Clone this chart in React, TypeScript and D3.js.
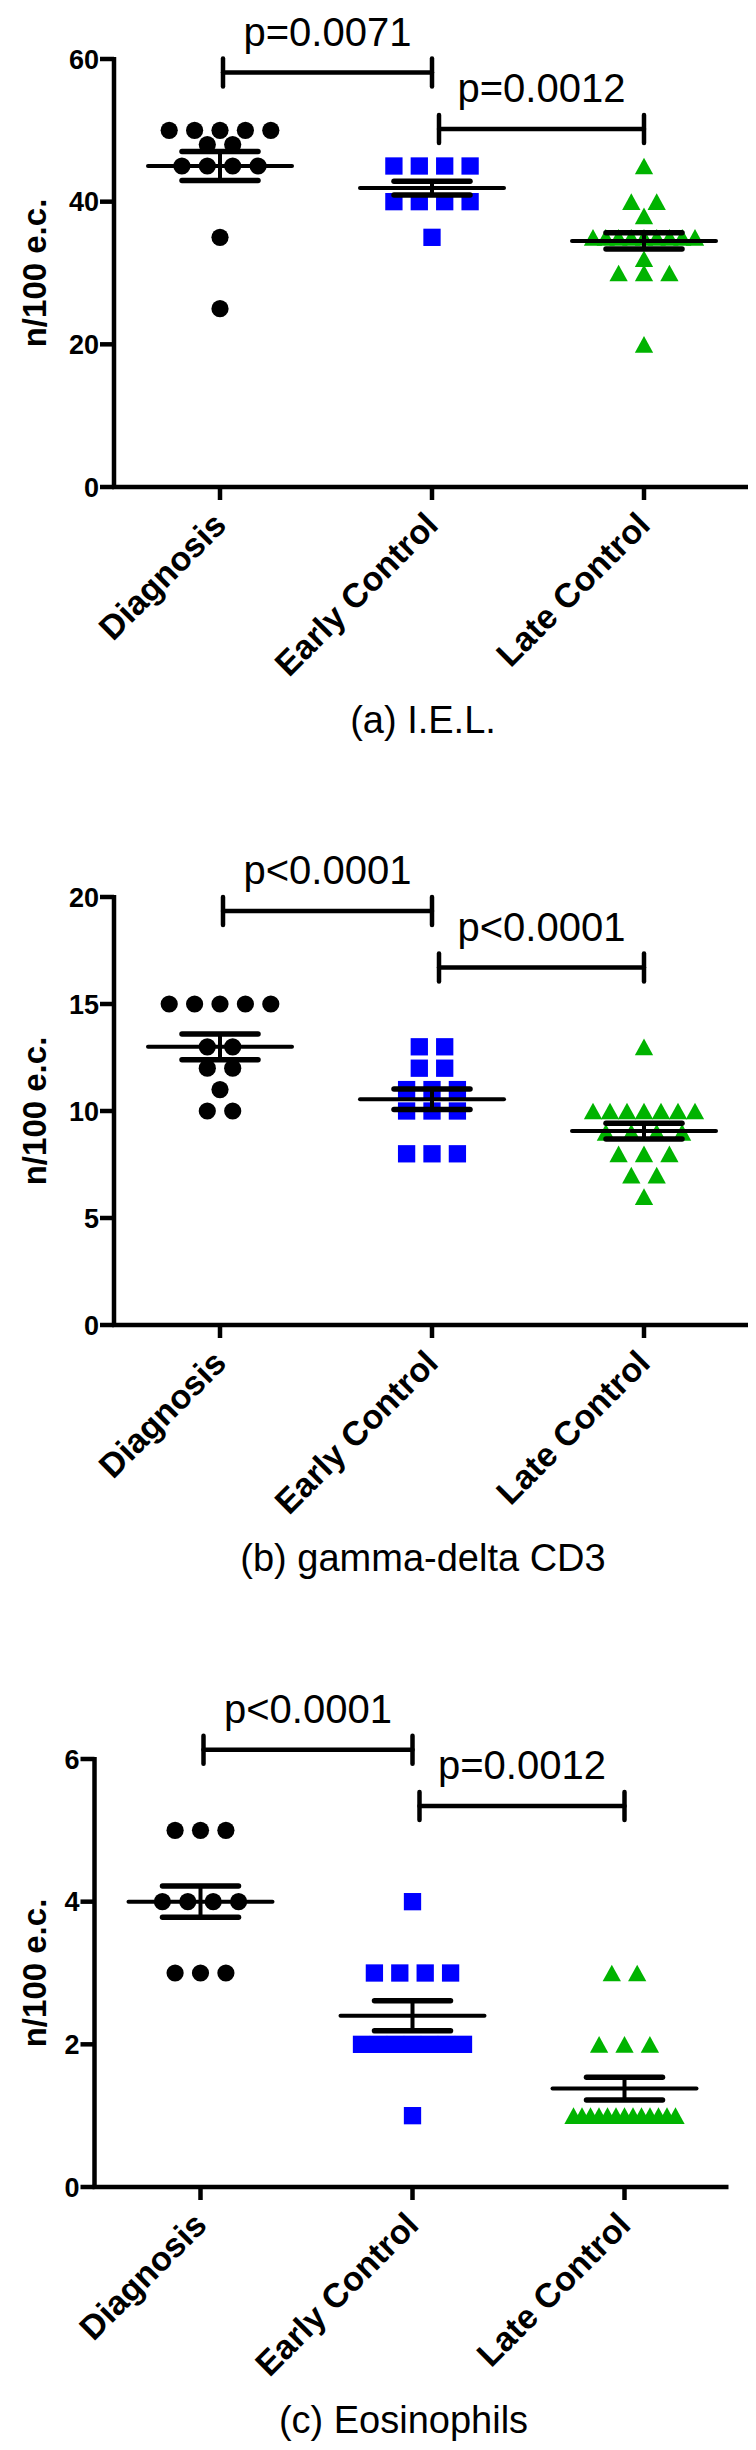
import React from "react";
import * as d3 from "d3";

// ---------- data ----------
const categories = ["Diagnosis", "Early Control", "Late Control"];

// (a) I.E.L.
const ielDiagnosis = [50, 50, 50, 50, 50, 48, 48, 45, 45, 45, 45, 35, 25];
const ielEarly = [45, 45, 45, 45, 40, 40, 40, 40, 35];
const ielLate = [45, 40, 40, 38, 35, 35, 35, 35, 35, 35, 35, 35, 35, 32, 30, 30, 30, 20];
const ielMean = [45.0, 41.9, 34.5];
const ielSem = [2.05, 0.95, 1.15];
const ielTicks = [0, 20, 40, 60];
const ielBrackets = [
  { from: 0, to: 1, value: 58.1, label: "p=0.0071" },
  { from: 1, to: 2, value: 50.2, label: "p=0.0012" },
];

// (b) gamma-delta CD3
const gdDiagnosis = [15, 15, 15, 15, 15, 13, 13, 12, 12, 11, 10, 10];
const gdEarly = [13, 13, 12, 12, 11, 11, 11, 10, 10, 10, 8, 8, 8];
const gdLate = [13, 10, 10, 10, 10, 10, 10, 10, 9, 9, 9, 9, 8, 8, 8, 7, 7, 6];
const gdMean = [13.0, 10.55, 9.06];
const gdSem = [0.6, 0.48, 0.37];
const gdTicks = [0, 5, 10, 15, 20];
const gdBrackets = [
  { from: 0, to: 1, value: 19.35, label: "p<0.0001" },
  { from: 1, to: 2, value: 16.7, label: "p<0.0001" },
];

// (c) Eosinophils
const eoDiagnosis = [5, 5, 5, 4, 4, 4, 4, 3, 3, 3];
const eoEarly = [4, 3, 3, 3, 3, 2, 2, 2, 2, 2, 2, 2, 1];
const eoLate = [3, 3, 2, 2, 2, 1, 1, 1, 1, 1, 1, 1, 1, 1, 1, 1, 1, 1];
const eoMean = [4.0, 2.4, 1.38];
const eoSem = [0.22, 0.21, 0.16];
const eoTicks = [0, 2, 4, 6];
const eoBrackets = [
  { from: 0, to: 1, value: 6.13, label: "p<0.0001" },
  { from: 1, to: 2, value: 5.34, label: "p=0.0012" },
];

const titles = ["(a) I.E.L.", "(b) gamma-delta CD3", "(c) Eosinophils"];
const yTitle = "n/100 e.c.";

// ---------- styling ----------
const FONT = "'Liberation Sans', Arial, Helvetica, sans-serif";
const COLORS = ["#000000", "#0000ff", "#00b300"];

type Bracket = { from: number; to: number; value: number; label: string };
type Cfg = {
  top: number;
  bottom: number;
  x0: number;
  yMax: number;
  ticks: number[];
  groups: number[][];
  means: number[];
  sems: number[];
  brackets: Bracket[];
  title: string;
};

function swarm(values: number[]) {
  const g = d3.group(values, (v) => v);
  const out: { v: number; dx: number }[] = [];
  for (const [v, arr] of g) {
    const n = arr.length;
    const sp = n > 1 ? Math.min(25.4, 102 / (n - 1)) : 0;
    arr.forEach((_, k) => out.push({ v, dx: (k - (n - 1) / 2) * sp }));
  }
  return out;
}

function Marker({ kind, cx, cy }: { kind: number; cx: number; cy: number }) {
  if (kind === 0) return <circle cx={cx} cy={cy} r={8.6} fill={COLORS[0]} />;
  if (kind === 1) {
    const s = 17.3;
    return <rect x={cx - s / 2} y={cy - s / 2} width={s} height={s} fill={COLORS[1]} />;
  }
  const w = 18.3, h = 16.7;
  return (
    <polygon
      points={`${cx},${cy - h / 2} ${cx + w / 2},${cy + h / 2} ${cx - w / 2},${cy + h / 2}`}
      fill={COLORS[2]}
    />
  );
}

function Panel({ cfg }: { cfg: Cfg }) {
  const y = d3.scaleLinear().domain([0, cfg.yMax]).range([cfg.bottom, cfg.top]);
  const x = d3.scalePoint<string>().domain(categories).range([cfg.x0, cfg.x0 + 636]).padding(0.5);
  const xEnd = cfg.x0 + 634;
  const midY = (cfg.top + cfg.bottom) / 2;
  const cx = (i: number) => x(categories[i]) as number;

  return (
    <g>
      {/* y title */}
      <text
        transform={`translate(46,${midY}) rotate(-90)`}
        textAnchor="middle"
        fontFamily={FONT}
        fontWeight="bold"
        fontSize={33}
      >
        {yTitle}
      </text>

      {/* points */}
      {cfg.groups.map((vals, gi) =>
        swarm(vals).map((p, k) => (
          <Marker key={`${gi}-${k}`} kind={gi} cx={cx(gi) + p.dx} cy={y(p.v)} />
        ))
      )}

      {/* mean and SEM */}
      {cfg.means.map((m, i) => {
        const c = cx(i);
        const hi = y(m + cfg.sems[i]);
        const lo = y(m - cfg.sems[i]);
        return (
          <g key={`m${i}`} stroke="#000" strokeLinecap="round">
            <line x1={c - 72} x2={c + 72} y1={y(m)} y2={y(m)} strokeWidth={4} />
            <line x1={c} x2={c} y1={hi} y2={lo} strokeWidth={4} />
            <line x1={c - 38} x2={c + 38} y1={hi} y2={hi} strokeWidth={5.5} />
            <line x1={c - 38} x2={c + 38} y1={lo} y2={lo} strokeWidth={5.5} />
          </g>
        );
      })}

      {/* axes */}
      <g stroke="#000" strokeWidth={4.5}>
        <line x1={cfg.x0} x2={cfg.x0} y1={cfg.top - 2} y2={cfg.bottom + 2} />
        <line x1={cfg.x0 - 2} x2={xEnd} y1={cfg.bottom} y2={cfg.bottom} />
        {cfg.ticks.map((t) => (
          <line key={`t${t}`} x1={cfg.x0 - 14} x2={cfg.x0} y1={y(t)} y2={y(t)} />
        ))}
        {categories.map((c, i) => (
          <line key={`c${i}`} x1={cx(i)} x2={cx(i)} y1={cfg.bottom} y2={cfg.bottom + 13} />
        ))}
      </g>
      {cfg.ticks.map((t) => (
        <text
          key={`tl${t}`}
          x={cfg.x0 - 15}
          y={y(t)}
          dy="0.36em"
          textAnchor="end"
          fontFamily={FONT}
          fontWeight="bold"
          fontSize={27}
        >
          {t}
        </text>
      ))}
      {categories.map((c, i) => (
        <text
          key={`cl${i}`}
          transform={`translate(${cx(i) + 8},${cfg.bottom + 40}) rotate(-45)`}
          textAnchor="end"
          fontFamily={FONT}
          fontWeight="bold"
          fontSize={34}
        >
          {c}
        </text>
      ))}

      {/* brackets */}
      {cfg.brackets.map((b, i) => {
        const xa = cx(b.from) + (i === 0 ? 3 : 7);
        const xb = cx(b.to);
        const by = y(b.value);
        return (
          <g key={`b${i}`}>
            <g stroke="#000" strokeWidth={4.5} strokeLinecap="round">
              <line x1={xa} x2={xb} y1={by} y2={by} />
              <line x1={xa} x2={xa} y1={by - 14} y2={by + 14} />
              <line x1={xb} x2={xb} y1={by - 14} y2={by + 14} />
            </g>
            <text
              x={(xa + xb) / 2}
              y={by - 27}
              textAnchor="middle"
              fontFamily={FONT}
              fontSize={40}
            >
              {b.label}
            </text>
          </g>
        );
      })}

      {/* panel title */}
      <text
        x={(cfg.x0 + xEnd) / 2 - 8}
        y={cfg.bottom + 246}
        textAnchor="middle"
        fontFamily={FONT}
        fontSize={38}
      >
        {cfg.title}
      </text>
    </g>
  );
}

const panels: Cfg[] = [
  {
    top: 59, bottom: 487, x0: 114, yMax: 60, ticks: ielTicks,
    groups: [ielDiagnosis, ielEarly, ielLate], means: ielMean, sems: ielSem,
    brackets: ielBrackets, title: titles[0],
  },
  {
    top: 897, bottom: 1325, x0: 114, yMax: 20, ticks: gdTicks,
    groups: [gdDiagnosis, gdEarly, gdLate], means: gdMean, sems: gdSem,
    brackets: gdBrackets, title: titles[1],
  },
  {
    top: 1759, bottom: 2187, x0: 94.5, yMax: 6, ticks: eoTicks,
    groups: [eoDiagnosis, eoEarly, eoLate], means: eoMean, sems: eoSem,
    brackets: eoBrackets, title: titles[2],
  },
];

export default function App() {
  return (
    <svg
      width={756}
      height={2450}
      viewBox="0 0 756 2450"
      style={{ position: "absolute", left: 0, top: 0, background: "#fff" }}
    >
      <rect x={0} y={0} width={756} height={2450} fill="#fff" />
      {panels.map((p, i) => (
        <Panel key={i} cfg={p} />
      ))}
    </svg>
  );
}
